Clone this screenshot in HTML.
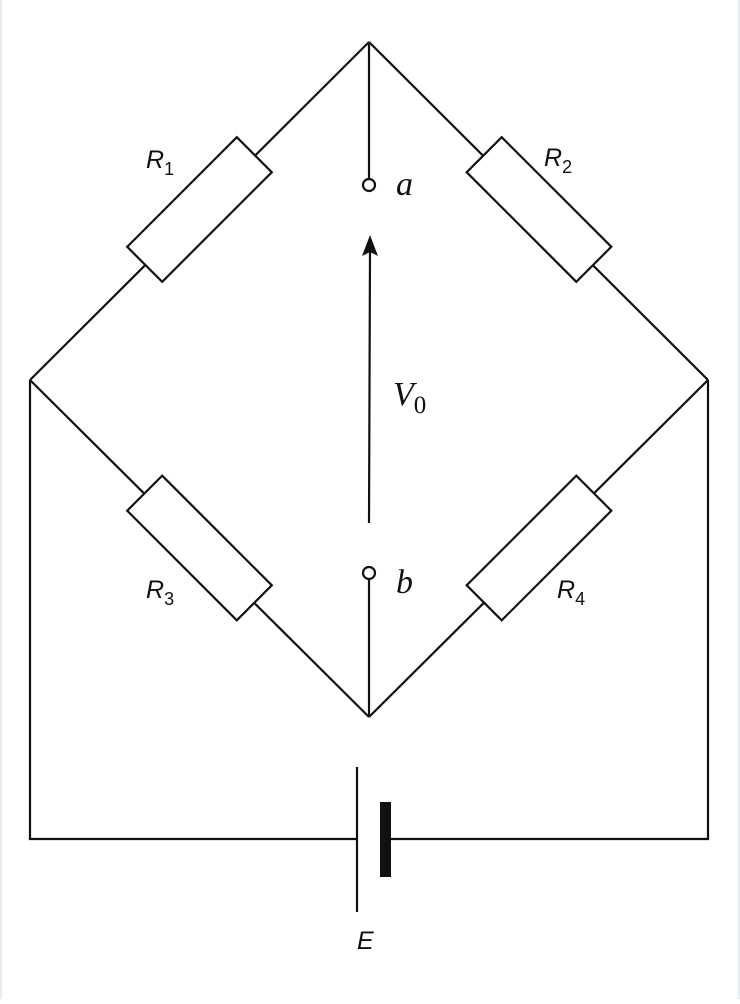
<!DOCTYPE html>
<html><head><meta charset="utf-8"><style>
html,body{margin:0;padding:0;background:#fff;}
body{width:740px;height:999px;overflow:hidden;}
</style></head><body>
<svg width="740" height="999" viewBox="0 0 740 999" xmlns="http://www.w3.org/2000/svg">
<rect x="0" y="0" width="740" height="999" fill="#fff"/>
<rect x="0" y="0" width="2" height="999" fill="#e3ecf5"/>
<rect x="738" y="0" width="2" height="999" fill="#e3ecf5"/>
<g stroke="#111" stroke-width="2.2" fill="none">
<!-- diamond -->
<line x1="369" y1="42" x2="30" y2="380"/>
<line x1="369" y1="42" x2="708" y2="380"/>
<line x1="30" y1="380" x2="369" y2="717"/>
<line x1="708" y1="380" x2="369" y2="717"/>
<!-- outer -->
<polyline points="30,380 30,839 357,839"/>
<polyline points="708,380 708,839 385,839"/>
<!-- battery -->
<line x1="357" y1="767" x2="357" y2="912"/>
<!-- terminals -->
<line x1="369" y1="42" x2="369" y2="179"/>
<line x1="369" y1="579" x2="369" y2="717"/>
<line x1="369" y1="523" x2="370" y2="252"/>
</g>
<rect x="380" y="802" width="11" height="75" fill="#111"/>
<g fill="#fff" stroke="#111" stroke-width="2.2">
<circle cx="369" cy="185" r="6"/>
<circle cx="369" cy="573" r="6"/>
<rect x="-77.5" y="-24.75" width="155" height="49.5" transform="translate(199.5,209.5) rotate(-45)"/>
<rect x="-77.5" y="-24.75" width="155" height="49.5" transform="translate(539,209.5) rotate(45)"/>
<rect x="-77.5" y="-24.75" width="155" height="49.5" transform="translate(199.5,548) rotate(45)"/>
<rect x="-77.5" y="-24.75" width="155" height="49.5" transform="translate(539,548) rotate(-45)"/>
</g>
<polygon points="370,235 362,256 370,252 378,256" fill="#111"/>
<g font-family="Liberation Sans, sans-serif" fill="#111">
<text x="146" y="168" font-size="25" font-style="italic">R<tspan font-size="18" font-style="normal" dy="7">1</tspan></text>
<text x="544" y="166" font-size="25" font-style="italic">R<tspan font-size="18" font-style="normal" dy="7">2</tspan></text>
<text x="146" y="598" font-size="25" font-style="italic">R<tspan font-size="18" font-style="normal" dy="7">3</tspan></text>
<text x="557" y="598" font-size="25" font-style="italic">R<tspan font-size="18" font-style="normal" dy="7">4</tspan></text>
<text x="357" y="949" font-size="25" font-style="italic">E</text>
</g>
<g font-family="Liberation Serif, serif" fill="#111" font-style="italic">
<text x="396" y="195" font-size="34">a</text>
<text x="396" y="593" font-size="34">b</text>
<text x="393" y="405" font-size="34">V<tspan font-style="normal" font-size="25" dy="8">0</tspan></text>
</g>
</svg>
</body></html>
